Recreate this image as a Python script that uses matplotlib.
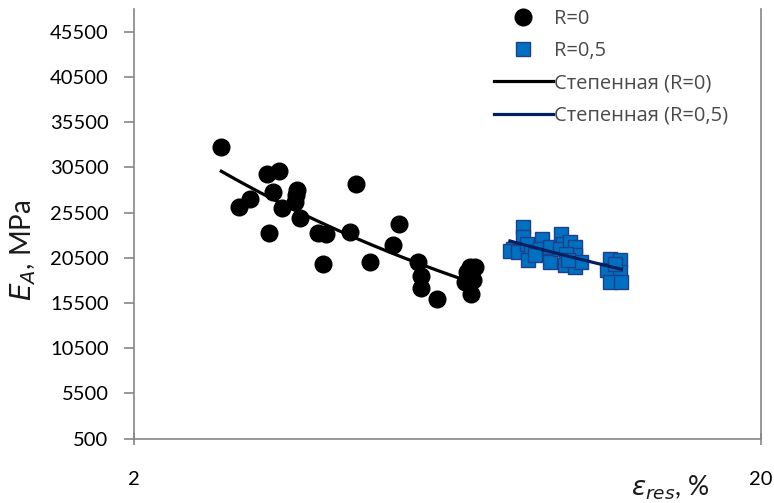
import numpy as np
import matplotlib
matplotlib.use("Agg")
import matplotlib.pyplot as plt
from matplotlib.ticker import FixedLocator, NullLocator

# ---- data ----
eps_r0 = [2.76, 2.95, 3.07, 3.26, 3.41, 3.34, 3.29, 3.45, 3.64, 3.63, 3.62, 3.68,
          3.94, 4.05, 4.01, 4.52, 4.42, 4.76, 5.18, 5.30, 5.69, 5.74, 5.75, 6.09,
          6.87, 6.99, 6.75, 6.94, 6.89, 6.79]
E_r0 = [32700, 26100, 27000, 29800, 30100, 27800, 23200, 26000, 28000, 27400, 26650, 24900,
        23200, 23100, 19850, 28600, 23300, 20050, 21900, 24250, 20050, 18500, 17200, 15950,
        19500, 19500, 17800, 18000, 16500, 18950]

eps_r05 = [8.35, 8.35, 8.06, 7.96, 8.20, 8.46, 8.61, 8.51, 8.94, 8.89, 8.72, 9.21,
           9.21, 9.61, 9.67, 9.55, 9.92, 10.10, 10.10, 9.79, 9.73, 10.10, 10.34, 9.86,
           11.48, 11.90, 11.35, 11.90, 11.48, 11.98, 11.69]
E_r05 = [23900, 22800, 21500, 21300, 21150, 22050, 21150, 20250, 22600, 21500, 20800, 20050,
         21700, 23150, 22050, 21500, 22250, 21700, 20800, 20950, 19650, 19500, 20050, 20250,
         20400, 20250, 19100, 18950, 17850, 17850, 19800]

label_r0 = "R=0"
label_r05 = "R=0,5"
label_fit0 = "Степенная (R=0)"
label_fit05 = "Степенная (R=0,5)"
yticks = [500, 5500, 10500, 15500, 20500, 25500, 30500, 35500, 40500, 45500]
xticks = [2, 20]


def power_fit(x, y):
    x = np.asarray(x, float)
    y = np.asarray(y, float)
    b, a = np.polyfit(np.log(x), np.log(y), 1)
    xs = np.geomspace(x.min(), x.max(), 50)
    return xs, np.exp(a) * xs ** b


plt.rcParams['font.family'] = ['Lato', 'DejaVu Sans']

fig = plt.figure(figsize=(7.74, 5.03), dpi=100)
ax = fig.add_axes([0.1725, 0.128, 0.8107, 0.854])

ax.plot(eps_r0, E_r0, 'o', color='black', markersize=12, label=label_r0, zorder=3)
ax.plot(eps_r05, E_r05, 's', color='#0070C0', markeredgecolor='#1F3F8A',
        markeredgewidth=1.0, markersize=10.5, label=label_r05, zorder=3)
xs, ys = power_fit(eps_r0, E_r0)
ax.plot(xs, ys, '-', color='black', lw=2.3, label=label_fit0, zorder=4)
xs, ys = power_fit(eps_r05, E_r05)
ax.plot(xs, ys, '-', color='#002060', lw=2.3, label=label_fit05, zorder=4)

ax.set_xscale('log')
ax.set_xlim(2, 20)
ax.set_ylim(500, 48000)
ax.xaxis.set_major_locator(FixedLocator(xticks))
ax.xaxis.set_minor_locator(NullLocator())
ax.set_xticklabels([str(t) for t in xticks])
ax.set_yticks(yticks)
ax.set_yticklabels([str(t) for t in yticks])

for s in ['left', 'bottom', 'right']:
    ax.spines[s].set_color('#868686')
    ax.spines[s].set_linewidth(1.2)
ax.spines['top'].set_visible(False)

ax.tick_params(axis='y', direction='out', length=7, width=1.2, color='#868686',
               labelsize=14.5, labelcolor='#000000', pad=11)
ax.tick_params(axis='x', direction='inout', length=8, width=1.2, color='#868686',
               labelsize=14.5, labelcolor='#000000', pad=19)

fig.text(0.030, 0.503, r'$E_A$, MPa', rotation=90, ha='center', va='center',
         fontsize=20, color='#1a1a1a')
fig.text(0.866, 0.030, r'$\varepsilon_{res}$, %', ha='center', va='center',
         fontsize=19, color='#1a1a1a')

leg = ax.legend(loc='upper left', bbox_to_anchor=(0.562, 1.018), frameon=False,
                prop={'family': ['Open Sans', 'DejaVu Sans'], 'size': 14.5},
                labelspacing=0.6, handlelength=2.9, handletextpad=0.05,
                borderaxespad=0)
for t in leg.get_texts():
    t.set_color('#4a4a4a')

fig.savefig('out.png', dpi=100)
